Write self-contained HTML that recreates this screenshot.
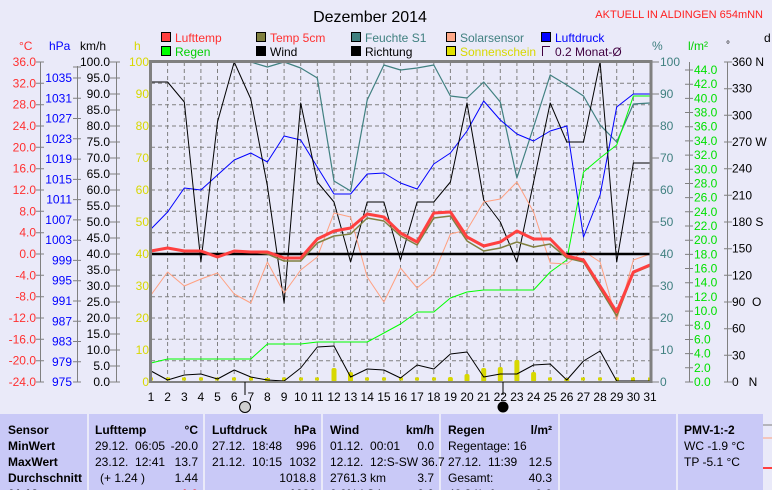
<!DOCTYPE html>
<html><head><meta charset="utf-8"><style>
body{margin:0;background:#eaeaf9;width:772px;height:490px;overflow:hidden;font-family:"Liberation Sans",sans-serif;}
svg{position:absolute;left:0;top:0}
text{font-family:"Liberation Sans",sans-serif;font-size:12px}
</style></head><body>
<svg width="772" height="490" viewBox="0 0 772 490">
<rect width="772" height="490" fill="#eaeaf9"/>
<text x="370" y="22" font-size="16" text-anchor="middle" style="font-size:16px">Dezember 2014</text>
<text x="763" y="18" text-anchor="end" fill="#ff2020" style="font-size:11px">AKTUELL IN ALDINGEN 654mNN</text>
<!-- legend -->
<g stroke="#000" stroke-width="1">
<rect x="161.5" y="32.5" width="9" height="9" fill="#ff4040"/>
<rect x="256.5" y="32.5" width="9" height="9" fill="#808040"/>
<rect x="351.5" y="32.5" width="9" height="9" fill="#408080"/>
<rect x="446.5" y="32.5" width="9" height="9" fill="#ffa888"/>
<rect x="541.5" y="32.5" width="9" height="9" fill="#0000ff"/>
<rect x="161.5" y="46.5" width="9" height="9" fill="#00ff00"/>
<rect x="256.5" y="46.5" width="9" height="9" fill="#000"/>
<rect x="351.5" y="46.5" width="9" height="9" fill="#000"/>
<rect x="446.5" y="46.5" width="9" height="9" fill="#e0e000"/>
</g>
<path d="M542.5 56V46.5H550" stroke="#400040" fill="none"/>
<text x="175" y="42" fill="#ff3030">Lufttemp</text>
<text x="270" y="42" fill="#ff3030">Temp 5cm</text>
<text x="365" y="42" fill="#408080">Feuchte S1</text>
<text x="460" y="42" fill="#408080">Solarsensor</text>
<text x="555" y="42" fill="#0000ff">Luftdruck</text>
<text x="175" y="56" fill="#00d000">Regen</text>
<text x="270" y="56">Wind</text>
<text x="365" y="56">Richtung</text>
<text x="460" y="56" fill="#d8d800">Sonnenschein</text>
<text x="555" y="56" fill="#400040">0.2 Monat-Ø</text>
<!-- axis headers -->
<text x="19" y="50" fill="#ff3030">°C</text>
<text x="49" y="50" fill="#0000ff">hPa</text>
<text x="80" y="50">km/h</text>
<text x="134" y="50" fill="#d8d800">h</text>
<text x="652" y="50" fill="#408080">%</text>
<text x="688" y="50" fill="#00d000">l/m²</text>
<text x="726" y="48" style="font-size:10px">°</text>
<text x="764" y="42">d</text>
<!-- grid -->
<g stroke="#808080" stroke-dasharray="4,3" stroke-width="1">
<path d="M167.6 62V382M184.3 62V382M200.9 62V382M217.5 62V382M234.2 62V382M250.8 62V382M267.4 62V382M284.1 62V382M300.7 62V382M317.3 62V382M334 62V382M350.6 62V382M367.2 62V382M383.9 62V382M400.5 62V382M417.1 62V382M433.8 62V382M450.4 62V382M467 62V382M483.7 62V382M500.3 62V382M516.9 62V382M533.6 62V382M550.2 62V382M566.8 62V382M583.5 62V382M600.1 62V382M616.7 62V382M633.4 62V382"/>
<path d="M151 83.3H650M151 104.7H650M151 126H650M151 147.3H650M151 168.7H650M151 190H650M151 211.3H650M151 232.7H650M151 275.3H650M151 296.7H650M151 318H650M151 339.3H650M151 360.7H650"/>
</g>
<!-- left axes -->
<g stroke="#808080" fill="none">
<path d="M40.5 62V382M77.5 66V382M116.5 62V382M689.5 62V382M727.5 62V382"/>
<path d="M36 62H44M36 83.3H44M36 104.7H44M36 126H44M36 147.3H44M36 168.7H44M36 190H44M36 211.3H44M36 232.7H44M36 254H44M36 275.3H44M36 296.7H44M36 318H44M36 339.3H44M36 360.7H44M36 382H44"/>
<path d="M73 67H81M73 78H81M73 98.3H81M73 118.5H81M73 138.8H81M73 159.1H81M73 179.4H81M73 199.6H81M73 219.9H81M73 240.2H81M73 260.4H81M73 280.7H81M73 301H81M73 321.3H81M73 341.5H81M73 361.8H81M73 382H81"/>
<path d="M110 62H120M110 78H120M110 94H120M110 110H120M110 126H120M110 142H120M110 158H120M110 174H120M110 190H120M110 206H120M110 222H120M110 238H120M110 254H120M110 270H120M110 286H120M110 302H120M110 318H120M110 334H120M110 350H120M110 366H120M110 382H120"/>
<path d="M651 62H659M651 94H659M651 126H659M651 158H659M651 190H659M651 222H659M651 254H659M651 286H659M651 318H659M651 350H659M651 382H659"/>
<path d="M685 70H693M685 84.2H693M685 98.4H693M685 112.5H693M685 126.7H693M685 140.9H693M685 155.1H693M685 169.3H693M685 183.5H693M685 197.6H693M685 211.8H693M685 226H693M685 240.2H693M685 254.4H693M685 268.5H693M685 282.7H693M685 296.9H693M685 311.1H693M685 325.3H693M685 339.5H693M685 353.6H693M685 367.8H693M685 382H693"/>
<path d="M724 62H732M724 88.7H732M724 115.3H732M724 142H732M724 168.7H732M724 195.3H732M724 222H732M724 248.7H732M724 275.3H732M724 302H732M724 328.7H732M724 355.3H732M724 382H732"/>
</g>
<g fill="#ff3030" text-anchor="end">
<text x="36" y="66">36.0</text><text x="36" y="87.3">32.0</text><text x="36" y="108.7">28.0</text><text x="36" y="130">24.0</text><text x="36" y="151.3">20.0</text><text x="36" y="172.7">16.0</text><text x="36" y="194">12.0</text><text x="36" y="215.3">8.0</text><text x="36" y="236.7">4.0</text><text x="36" y="258">0.0</text><text x="36" y="279.3">-4.0</text><text x="36" y="300.7">-8.0</text><text x="36" y="322">-12.0</text><text x="36" y="343.3">-16.0</text><text x="36" y="364.7">-20.0</text><text x="36" y="386">-24.0</text>
</g>
<g fill="#0000ff" text-anchor="end">
<text x="72" y="82">1035</text><text x="72" y="102.3">1031</text><text x="72" y="122.5">1027</text><text x="72" y="142.8">1023</text><text x="72" y="163.1">1019</text><text x="72" y="183.4">1015</text><text x="72" y="203.6">1011</text><text x="72" y="223.9">1007</text><text x="72" y="244.2">1003</text><text x="72" y="264.4">999</text><text x="72" y="284.7">995</text><text x="72" y="305">991</text><text x="72" y="325.3">987</text><text x="72" y="345.5">983</text><text x="72" y="365.8">979</text><text x="72" y="386">975</text>
</g>
<g fill="#000" text-anchor="end">
<text x="110" y="66">100.0</text><text x="110" y="82">95.0</text><text x="110" y="98">90.0</text><text x="110" y="114">85.0</text><text x="110" y="130">80.0</text><text x="110" y="146">75.0</text><text x="110" y="162">70.0</text><text x="110" y="178">65.0</text><text x="110" y="194">60.0</text><text x="110" y="210">55.0</text><text x="110" y="226">50.0</text><text x="110" y="242">45.0</text><text x="110" y="258">40.0</text><text x="110" y="274">35.0</text><text x="110" y="290">30.0</text><text x="110" y="306">25.0</text><text x="110" y="322">20.0</text><text x="110" y="338">15.0</text><text x="110" y="354">10.0</text><text x="110" y="370">5.0</text><text x="110" y="386">0.0</text>
</g>
<g fill="#d8d800" text-anchor="end">
<text x="149" y="66">100</text><text x="149" y="98">90</text><text x="149" y="130">80</text><text x="149" y="162">70</text><text x="149" y="194">60</text><text x="149" y="226">50</text><text x="149" y="258">40</text><text x="149" y="290">30</text><text x="149" y="322">20</text><text x="149" y="354">10</text><text x="149" y="386">0</text>
</g>
<g fill="#408080">
<text x="660" y="66">100</text><text x="660" y="98">90</text><text x="660" y="130">80</text><text x="660" y="162">70</text><text x="660" y="194">60</text><text x="660" y="226">50</text><text x="660" y="258">40</text><text x="660" y="290">30</text><text x="660" y="322">20</text><text x="660" y="354">10</text><text x="660" y="386">0</text>
</g>
<g fill="#00e000">
<text x="694" y="74">44.0</text><text x="694" y="88.2">42.0</text><text x="694" y="102.4">40.0</text><text x="694" y="116.5">38.0</text><text x="694" y="130.7">36.0</text><text x="694" y="144.9">34.0</text><text x="694" y="159.1">32.0</text><text x="694" y="173.3">30.0</text><text x="694" y="187.5">28.0</text><text x="694" y="201.6">26.0</text><text x="694" y="215.8">24.0</text><text x="694" y="230">22.0</text><text x="694" y="244.2">20.0</text><text x="694" y="258.4">18.0</text><text x="694" y="272.5">16.0</text><text x="694" y="286.7">14.0</text><text x="694" y="300.9">12.0</text><text x="694" y="315.1">10.0</text><text x="694" y="329.3">8.0</text><text x="694" y="343.5">6.0</text><text x="694" y="357.6">4.0</text><text x="694" y="371.8">2.0</text><text x="694" y="386">0.0</text>
</g>
<g fill="#000">
<text x="732" y="66">360 N</text><text x="732" y="92.7">330</text><text x="732" y="119.3">300</text><text x="732" y="146">270 W</text><text x="732" y="172.7">240</text><text x="732" y="199.3">210</text><text x="732" y="226">180 S</text><text x="732" y="252.7">150</text><text x="732" y="279.3">120</text><text x="732" y="306">90&#160;&#160;O</text><text x="732" y="332.7">60</text><text x="732" y="359.3">30</text><text x="732" y="386">0&#160;&#160;&#160;N</text>
</g>
<!-- sunshine bars -->
<g fill="#d8d800">
<rect x="331.5" y="368" width="5" height="14" rx="2"/><rect x="348" y="372" width="5" height="10" rx="2"/>
<rect x="447.9" y="377" width="5" height="5" rx="2"/><rect x="464.5" y="374" width="5" height="8" rx="2"/>
<rect x="481.2" y="368" width="5" height="14" rx="2"/><rect x="497.8" y="367" width="5" height="15" rx="2"/>
<rect x="514.4" y="360" width="5" height="22" rx="2"/><rect x="531.1" y="372" width="5" height="10" rx="2"/>
<rect x="564.3" y="378" width="5" height="4" rx="2"/><rect x="264.9" y="378" width="5" height="4"/>
<path d="M149 379h4M166 379h4M182 379h4M199 379h4M215 379h4M232 379h4M249 379h4M282 379h4M299 379h4M315 379h4M365 379h4M382 379h4M399 379h4M415 379h4M432 379h4M548 379h4M581 379h4M598 379h4M615 379h4M631 379h4M648 379h4" stroke="#d8d800" stroke-width="3"/>
</g>
<g fill="none" stroke-linejoin="round">
<!-- Feuchte -->
<polyline stroke="#408080" stroke-width="1.2" points="151,62 167.6,62 184.3,62 200.9,62 217.5,62 234.2,62 250.8,62 267.4,67 284.1,62 300.7,68 317.3,78 334,181 350.6,191 367.2,100 383.9,65 400.5,70 417.1,68 433.8,65 450.4,96 467,98 483.7,82 500.3,102 516.9,178 533.6,127 550.2,75 566.8,85 583.5,96 600.1,125 616.7,142 633.4,104 650,103"/>
<!-- Luftdruck -->
<polyline stroke="#0000ff" stroke-width="1" points="151,229 167.6,212 184.3,188 200.9,190 217.5,175 234.2,160 250.8,153 267.4,162 284.1,136 300.7,140 317.3,167 334,194 350.6,194 367.2,174 383.9,173 400.5,183 417.1,189 433.8,164 450.4,153 467,131 483.7,101 500.3,120 516.9,134 533.6,141 550.2,131 566.8,126 583.5,237 600.1,195 616.7,107 633.4,94 650,94"/>
<!-- Richtung -->
<polyline stroke="#000" stroke-width="1" points="151,82 167.6,82 184.3,102 200.9,262 217.5,122 234.2,62 250.8,99 267.4,186 284.1,303 300.7,103 317.3,182 334,202 350.6,262 367.2,202 383.9,202 400.5,260 417.1,202 433.8,202 450.4,182 467,103 483.7,200 500.3,222 516.9,262 533.6,182 550.2,103 566.8,142 583.5,142 600.1,62 616.7,262 633.4,163 650,163"/>
<!-- Regen -->
<polyline stroke="#00ff00" stroke-width="1" points="151,363 167.6,359 184.3,359 200.9,359 217.5,359 234.2,359 250.8,359 267.4,344 284.1,344 300.7,344 317.3,342 334,342 350.6,342 367.2,342 383.9,333 400.5,324 417.1,312 433.8,312 450.4,298 467,292 483.7,290 500.3,290 516.9,290 533.6,290 550.2,272 566.8,260 583.5,172 600.1,158 616.7,145 633.4,96 650,96"/>
<!-- Wind -->
<polyline stroke="#000" stroke-width="1" points="151,371 167.6,380 184.3,375 200.9,374 217.5,379 234.2,370 250.8,377 267.4,380 284.1,381 300.7,368 317.3,347 334,346 350.6,377 367.2,369 383.9,370 400.5,378 417.1,365 433.8,369 450.4,354 467,352 483.7,377 500.3,374 516.9,374 533.6,365 550.2,364 566.8,380 583.5,361 600.1,351 616.7,381 633.4,381 650,381"/>
<!-- Solar -->
<polyline stroke="#ffa080" stroke-width="1" points="151,295 167.6,272 184.3,286 200.9,279 217.5,273 234.2,294 250.8,303 267.4,262 284.1,293 300.7,270 317.3,257 334,213 350.6,217 367.2,277 383.9,302 400.5,268 417.1,288 433.8,274 450.4,234 467,230 483.7,202 500.3,199 516.9,182 533.6,212 550.2,263 566.8,264 583.5,251 600.1,262 616.7,320 633.4,260 650,254"/>
<!-- zero line -->
<path d="M151 254H650" stroke="#000" stroke-width="2.5"/>
<!-- Temp 5cm -->
<polyline stroke="#808040" stroke-width="1.5" points="151,251 167.6,248 184.3,251 200.9,251 217.5,257 234.2,251 250.8,252 267.4,254 284.1,261 300.7,261 317.3,243 334,236 350.6,234 367.2,218 383.9,221 400.5,236 417.1,245 433.8,218 450.4,216 467,241 483.7,251 500.3,248 516.9,242 533.6,247 550.2,244 566.8,258 583.5,262 600.1,289 616.7,316 633.4,273 650,266"/>
<!-- Lufttemp -->
<polyline stroke="#ff4040" stroke-width="3" points="151,251 167.6,248 184.3,251 200.9,251 217.5,257 234.2,251 250.8,252 267.4,252 284.1,258 300.7,258 317.3,239 334,231 350.6,228 367.2,214 383.9,217 400.5,233 417.1,242 433.8,213 450.4,212 467,237 483.7,246 500.3,242 516.9,231 533.6,239 550.2,239 566.8,256 583.5,260 600.1,286 616.7,312 633.4,272 650,265"/>
</g>
<!-- frame -->
<path d="M150.5 383V61.5H651V383" stroke="#808080" stroke-width="3" fill="none"/>
<path d="M149 382H652" stroke="#808080" stroke-width="2"/>
<!-- moon -->
<path d="M245 382V395M503 382V395" stroke="#000"/>
<circle cx="245" cy="407" r="5.5" fill="#d0d0d0" stroke="#000"/>
<circle cx="503" cy="407" r="5.5" fill="#000"/>
<!-- day labels -->
<g text-anchor="middle">
<text x="151" y="401">1</text><text x="167.6" y="401">2</text><text x="184.3" y="401">3</text><text x="200.9" y="401">4</text><text x="217.5" y="401">5</text><text x="234.2" y="401">6</text><text x="250.8" y="401">7</text><text x="267.4" y="401">8</text><text x="284.1" y="401">9</text><text x="300.7" y="401">10</text><text x="317.3" y="401">11</text><text x="334" y="401">12</text><text x="350.6" y="401">13</text><text x="367.2" y="401">14</text><text x="383.9" y="401">15</text><text x="400.5" y="401">16</text><text x="417.1" y="401">17</text><text x="433.8" y="401">18</text><text x="450.4" y="401">19</text><text x="467" y="401">20</text><text x="483.7" y="401">21</text><text x="500.3" y="401">22</text><text x="516.9" y="401">23</text><text x="533.6" y="401">24</text><text x="550.2" y="401">25</text><text x="566.8" y="401">26</text><text x="583.5" y="401">27</text><text x="600.1" y="401">28</text><text x="616.7" y="401">29</text><text x="633.4" y="401">30</text><text x="650" y="401">31</text>
</g>
<!-- table -->
<g fill="#c9c9f7">
<rect x="0" y="414" width="87" height="76"/><rect x="89" y="414" width="114" height="76"/><rect x="205" y="414" width="116" height="76"/><rect x="323" y="414" width="116" height="76"/><rect x="441" y="414" width="117" height="76"/><rect x="560" y="414" width="116" height="76"/><rect x="678" y="414" width="85" height="76"/>
</g>
<path d="M763 438h9" stroke="#ffa080"/><path d="M763 468h9" stroke="#ff4040" stroke-width="2"/><path d="M763 425h9" stroke="#808080"/>
<g font-weight="bold" style="font-weight:bold">
<text x="8" y="434">Sensor</text><text x="8" y="450">MinWert</text><text x="8" y="466">MaxWert</text><text x="8" y="482">Durchschnitt</text><text x="8" y="498">01.12.</text>
<text x="95" y="434">Lufttemp</text><text x="198" y="434" text-anchor="end">°C</text>
<text x="212" y="434">Luftdruck</text><text x="316" y="434" text-anchor="end">hPa</text>
<text x="330" y="434">Wind</text><text x="434" y="434" text-anchor="end">km/h</text>
<text x="448" y="434">Regen</text><text x="552" y="434" text-anchor="end">l/m²</text>
<text x="684" y="434">PMV-1:-2</text>
<text x="198" y="498" text-anchor="end" fill="#ff0000">-1.0</text><text x="316" y="498" text-anchor="end">1030</text><text x="434" y="498" text-anchor="end">0.0</text><text x="552" y="498" text-anchor="end">0.0</text>
</g>
<text x="95" y="450">29.12.&#160; 06:05</text><text x="198" y="450" text-anchor="end">-20.0</text>
<text x="95" y="466">23.12.&#160; 12:41</text><text x="198" y="466" text-anchor="end">13.7</text>
<text x="100" y="482">(+ 1.24 )</text><text x="198" y="482" text-anchor="end">1.44</text>
<text x="212" y="450">27.12.&#160; 18:48</text><text x="316" y="450" text-anchor="end">996</text>
<text x="212" y="466">21.12.&#160; 10:15</text><text x="316" y="466" text-anchor="end">1032</text>
<text x="316" y="482" text-anchor="end">1018.8</text>
<text x="330" y="450">01.12.&#160; 00:01</text><text x="434" y="450" text-anchor="end">0.0</text>
<text x="330" y="466">12.12.&#160; 12:S-SW 36.7</text>
<text x="330" y="482">2761.3 km</text><text x="434" y="482" text-anchor="end">3.7</text>
<text x="330" y="498">0.0% l.Stl.</text>
<text x="448" y="450">Regentage: 16</text>
<text x="448" y="466">27.12.&#160; 11:39</text><text x="552" y="466" text-anchor="end">12.5</text>
<text x="448" y="482">Gesamt:</text><text x="552" y="482" text-anchor="end">40.3</text>
<text x="448" y="498">40.3 l/m²</text>
<text x="684" y="450">WC -1.9 °C</text>
<text x="684" y="466">TP -5.1 °C</text>
</svg>
</body></html>
